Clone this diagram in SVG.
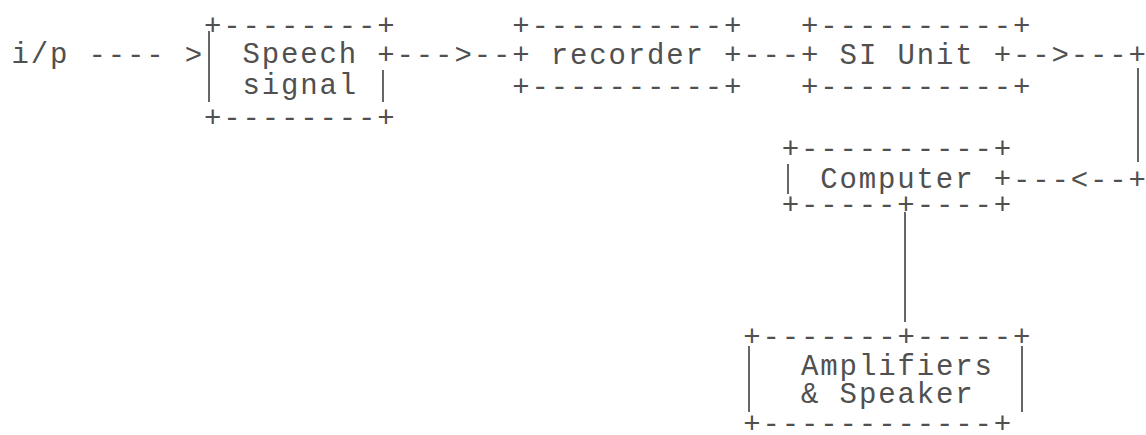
<svg xmlns="http://www.w3.org/2000/svg" width="1146" height="435" viewBox="0 0 1146 435">
<style>
text{font-family:"Liberation Mono","DejaVu Sans Mono",monospace;font-size:29px;letter-spacing:1.86px;fill:#505050;white-space:pre}
.v{stroke:#666;stroke-width:2;fill:none}
</style>
<rect width="1146" height="435" fill="#fff"/>
<g id="connectors">
<text x="11.4" y="63">i/p</text>
<text x="88.4" y="64">---- &gt;</text>
<text x="396.6" y="64">---&gt;--</text>
<text x="743.3" y="64">---</text>
<text x="1012.9" y="64">--&gt;---+</text>
<line class="v" x1="1138" y1="68" x2="1138" y2="162"/>
<text x="1012.9" y="189">---&lt;--+</text>
<line class="v" x1="905" y1="212" x2="905" y2="322"/>
</g>
<g id="speech">
<text x="204" y="35">+--------+</text>
<line class="v" x1="209" y1="31" x2="209" y2="102"/>
<text x="242.5" y="63">Speech</text>
<text x="377.3" y="64">+</text>
<text x="242.5" y="94">signal</text>
<line class="v" x1="383" y1="70" x2="383" y2="102"/>
<text x="204" y="127">+--------+</text>
</g>
<g id="recorder">
<text x="512.2" y="35">+----------+</text>
<text x="512.2" y="64">+ recorder +</text>
<text x="512.2" y="96">+----------+</text>
</g>
<g id="si-unit">
<text x="801.1" y="35">+----------+</text>
<text x="801.1" y="64">+ SI Unit +</text>
<text x="801.1" y="96">+----------+</text>
</g>
<g id="computer">
<text x="781.8" y="158">+----------+</text>
<line class="v" x1="788" y1="164" x2="788" y2="194"/>
<text x="820.3" y="188">Computer +</text>
<text x="781.8" y="214">+-----+----+</text>
</g>
<g id="amplifiers">
<text x="743.3" y="346">+-------+-----+</text>
<line class="v" x1="749" y1="346" x2="749" y2="412"/>
<line class="v" x1="1022" y1="346" x2="1022" y2="412"/>
<text x="801.1" y="375">Amplifiers</text>
<text x="801.1" y="403">&amp; Speaker</text>
<text x="743.3" y="433">+------------+</text>
</g>
</svg>
